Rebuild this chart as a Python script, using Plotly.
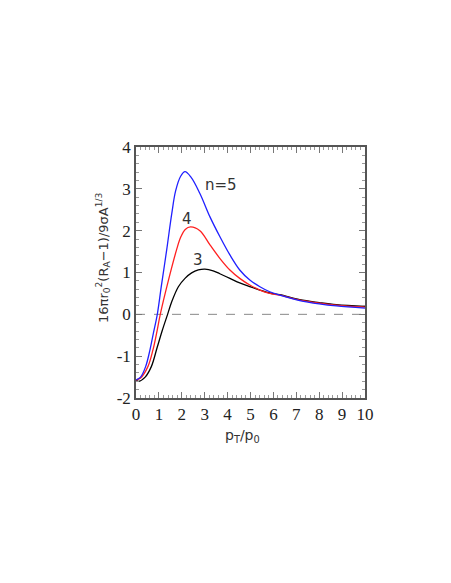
import plotly.graph_objects as go

# curve n=5 (blue)
x5 = [0, 0.2, 0.42, 0.61, 0.76, 0.93, 1.1, 1.34, 1.56, 1.73, 1.95, 2.14, 2.4, 2.79,
      3.23, 3.66, 4.10, 4.53, 4.97, 5.41, 5.84, 6.28, 7.15, 8.0, 8.75, 10]
y5 = [-1.57, -1.5, -1.25, -0.85, -0.45, 0.0, 0.65, 1.54, 2.4, 2.95, 3.3, 3.41, 3.28, 2.89,
      2.33, 1.86, 1.42, 1.06, 0.82, 0.66, 0.54, 0.46, 0.33, 0.25, 0.2, 0.15]

# curve n=4 (red)
x4 = [0, 0.2, 0.52, 0.74, 0.9, 1.06, 1.41, 1.77, 1.95, 2.15, 2.38, 2.79, 3.23, 3.66,
      4.10, 4.53, 4.97, 5.41, 5.84, 6.28, 7.15, 8.0, 8.75, 10]
y4 = [-1.57, -1.52, -1.25, -0.85, -0.45, 0.0, 0.8, 1.54, 1.84, 2.03, 2.09, 2.0, 1.66, 1.34,
      1.06, 0.86, 0.70, 0.58, 0.50, 0.46, 0.34, 0.27, 0.22, 0.17]

# curve n=3 (black)
x3 = [0, 0.12, 0.4, 0.67, 0.92, 1.15, 1.38, 1.56, 1.85, 2.14, 2.43, 2.72, 3.01, 3.37,
      3.66, 4.10, 4.53, 4.97, 5.41, 5.84, 6.28, 7.15, 8.0, 8.75, 10]
y3 = [-1.58, -1.6, -1.5, -1.25, -0.8, -0.38, 0.0, 0.3, 0.66, 0.86, 0.99, 1.06, 1.08, 1.04,
      0.97, 0.86, 0.75, 0.66, 0.58, 0.51, 0.47, 0.35, 0.28, 0.23, 0.19]

curve_labels = ["n=5", "4", "3"]
label_x = [3.72, 2.21, 2.72]
label_y = [3.09, 2.29, 1.30]

y_ticks = [-2, -1, 0, 1, 2, 3, 4]
y_ticktext = ["-2", "-1", "0", "1", "2", "3", "4"]

fig = go.Figure()

fig.add_trace(go.Scatter(x=[0, 10], y=[0, 0], mode="lines",
                         line=dict(color="#888888", width=1, dash="dash"),
                         showlegend=False))

for xs, ys, col in [(x3, y3, "#000000"), (x4, y4, "#ff2020"), (x5, y5, "#2020ff")]:
    fig.add_trace(go.Scatter(x=xs, y=ys, mode="lines",
                             line=dict(color=col, width=1.3, shape="spline", smoothing=1.0),
                             showlegend=False))

for t, lx, ly in zip(curve_labels, label_x, label_y):
    fig.add_annotation(x=lx, y=ly, text=t, showarrow=False,
                       font=dict(family="DejaVu Sans", size=15, color="#333333"))

axis_common = dict(
    showgrid=False, zeroline=False,
    showline=True, linecolor="#555555", linewidth=1.5, mirror="ticks",
    ticks="inside", ticklen=6, tickcolor="#777777", tickwidth=1,
    tickfont=dict(family="Liberation Serif, Times New Roman, serif", size=17, color="#222222"),
)

fig.update_xaxes(range=[0, 10], dtick=1, tick0=0,
                 minor=dict(dtick=0.2, ticks="inside", ticklen=3, tickcolor="#999999"),
                 **axis_common)
fig.update_yaxes(range=[-2, 4], tickvals=y_ticks, ticktext=y_ticktext,
                 minor=dict(dtick=0.2, ticks="inside", ticklen=3, tickcolor="#999999"),
                 **axis_common)

fig.add_annotation(xref="paper", yref="paper", x=-0.144, y=0.558,
                   xanchor="center", yanchor="middle",
                   text="16πr<sub>0</sub><sup>2</sup>(R<sub>A</sub>−1)/9σA<sup>1/3</sup>",
                   textangle=-90, showarrow=False,
                   font=dict(family="DejaVu Sans", size=13, color="#333333"))
fig.add_annotation(xref="paper", yref="paper", x=0.467, y=-0.151,
                   xanchor="center", yanchor="middle",
                   text="p<sub>T</sub>/p<sub>0</sub>", showarrow=False,
                   font=dict(family="DejaVu Sans", size=14, color="#333333"))

fig.update_layout(
    width=451, height=583,
    margin=dict(l=128, r=94, t=139, b=193),
    plot_bgcolor="white", paper_bgcolor="white",
)

fig.write_html("out.html")
